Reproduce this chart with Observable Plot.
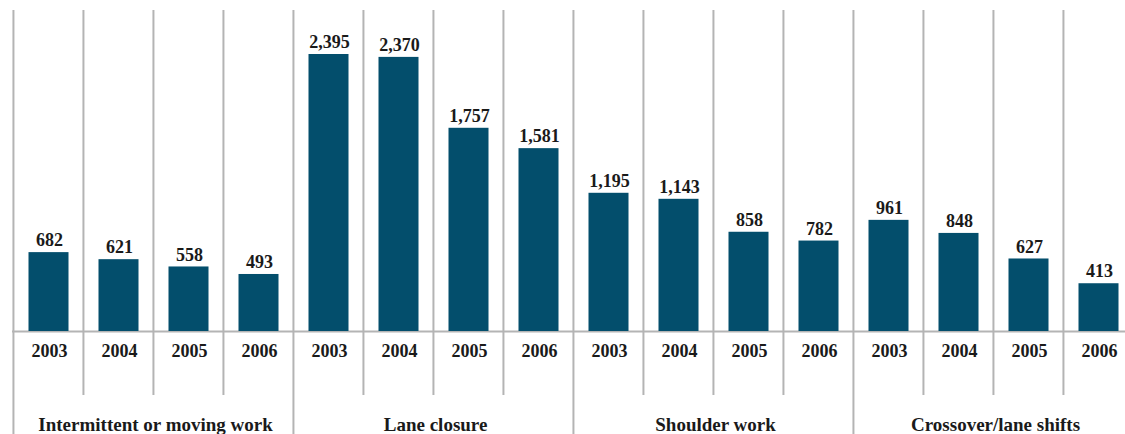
<!DOCTYPE html>
<html>
<head>
<meta charset="utf-8">
<script src="https://cdn.jsdelivr.net/npm/d3@7"></script>
<script src="https://cdn.jsdelivr.net/npm/@observablehq/plot@0.6"></script>
<style>
  html, body { margin: 0; padding: 0; background: #fff; }
  #chart svg { display: block; overflow: hidden; }
  #chart svg text { font-family: "Liberation Serif", "DejaVu Serif", serif !important; }
</style>
</head>
<body>
<div id="chart"></div>
<script>
const groups = ["Intermittent or moving work", "Lane closure", "Shoulder work", "Crossover/lane shifts"];
const years = ["2003", "2004", "2005", "2006"];
const intermittent = [682, 621, 558, 493];
const laneClosure = [2395, 2370, 1757, 1581];
const shoulderWork = [1195, 1143, 858, 782];
const crossover = [961, 848, 627, 413];
const seriesValues = [intermittent, laneClosure, shoulderWork, crossover];

const data = groups.flatMap((g, gi) => years.map((y, yi) => ({
  group: g, year: y, key: g + "|" + y, value: seriesValues[gi][yi], yi
})));
const keys = data.map(d => d.key);

const fmt = d3.format(",");
const font = "Liberation Serif";
const grid = "#b4b4b4";
const halfStep = 35.06;

const chart = Plot.plot({
  width: 1125,
  height: 434,
  marginTop: 10,
  marginBottom: 0,
  marginLeft: 12,
  marginRight: 0,
  style: { fontFamily: font, background: "#fff" },
  x: { type: "band", domain: keys, range: [12, 1133], padding: 0, axis: null },
  y: { domain: [0, 2395], range: [331, 54], axis: null },
  marks: [
    Plot.ruleX(data.filter(d => d.yi === 0), { x: "key", dx: -halfStep, stroke: grid, strokeWidth: 2 }),
    Plot.ruleX(data.filter(d => d.yi !== 0), { x: "key", dx: -halfStep, insetBottom: 39, stroke: grid, strokeWidth: 2 }),
    Plot.ruleY([0], { stroke: grid, strokeWidth: 2 }),
    Plot.barY(data, { x: "key", y: "value", fill: "#034e6c", insetLeft: 15.5, insetRight: 14.5 }),
    Plot.text(data, { x: "key", y: "value", text: d => fmt(d.value), dx: 1, dy: -12, fontSize: 18, fontWeight: "bold", fontFamily: font, fill: "#1a1a1a" }),
    Plot.text(data, { x: "key", text: "year", frameAnchor: "bottom", dx: 1, dy: -78, fontSize: 18, fontWeight: "bold", fontFamily: font, fill: "#1a1a1a" }),
    Plot.text(data.filter(d => d.yi === 1), { x: "key", text: "group", frameAnchor: "bottom", dx: halfStep + 2, dy: -4, fontSize: 19, fontWeight: "bold", fontFamily: font, fill: "#1a1a1a" })
  ]
});
document.getElementById("chart").appendChild(chart);
</script>
</body>
</html>
